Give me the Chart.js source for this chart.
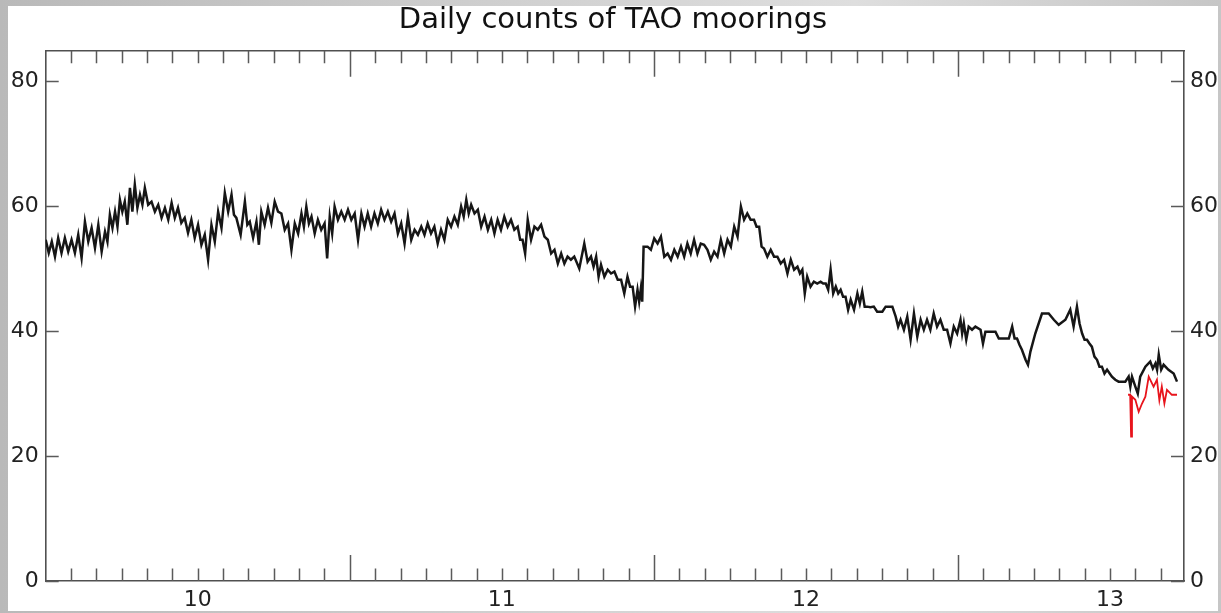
<!DOCTYPE html>
<html><head><meta charset="utf-8">
<script src="https://cdn.jsdelivr.net/npm/chart.js@4"></script>
<style>
html,body{margin:0;padding:0;}
body{width:1221px;height:613px;overflow:hidden;position:relative;background:linear-gradient(90deg,#b9b9b9 0%,#cfcfcf 40%,#dedede 70%,#c6c6c6 100%);}
#wrap{position:absolute;left:8px;top:6px;width:1210px;height:605px;background:#fff;}
</style></head><body>
<div id="wrap"><canvas id="c" width="1210" height="605"></canvas></div>
<script>
const chartTitle = 'Daily counts of TAO moorings';
const xTickValues = [10, 11, 12, 13];
const yTickValues = [0, 20, 40, 60, 80];
const xRange = [9.5, 13.243];
const yRange = [0, 84.85];

// Black series: time (years since 2000) with upper / lower envelope of the daily counts
const blackX = [9.500,9.520,9.541,9.563,9.585,9.607,9.629,9.651,9.673,9.695,9.711,9.728,9.744,9.760,9.777,9.793,9.810,9.826,9.848,9.870,9.892,9.914,9.935,9.957,9.979,10.001,10.023,10.045,10.067,10.089,10.111,10.127,10.155,10.171,10.193,10.209,10.231,10.253,10.275,10.297,10.319,10.341,10.357,10.374,10.395,10.417,10.434,10.450,10.472,10.494,10.516,10.538,10.559,10.581,10.603,10.625,10.647,10.669,10.691,10.713,10.735,10.756,10.778,10.800,10.822,10.844,10.866,10.883,10.899,10.921,10.943,10.965,10.986,11.008,11.030,11.052,11.068,11.085,11.107,11.129,11.151,11.173,11.195,11.216,11.238,11.271,11.293,11.310,11.326,11.348,11.370,11.392,11.413,11.430,11.446,11.457,11.466,11.479,11.501,11.523,11.545,11.567,11.589,11.610,11.632,11.654,11.676,11.698,11.720,11.742,11.764,11.786,11.807,11.829,11.846,11.862,11.884,11.906,11.928,11.950,11.972,11.988,12.004,12.026,12.048,12.065,12.081,12.098,12.114,12.130,12.147,12.169,12.185,12.201,12.223,12.234,12.251,12.262,12.284,12.295,12.311,12.333,12.355,12.377,12.398,12.420,12.442,12.464,12.486,12.508,12.519,12.535,12.557,12.574,12.590,12.623,12.634,12.667,12.678,12.694,12.710,12.722,12.738,12.754,12.776,12.798,12.815,12.831,12.853,12.869,12.891,12.908,12.924,12.940,12.957,12.973,12.990,13.006,13.028,13.050,13.061,13.072,13.083,13.099,13.116,13.132,13.149,13.160,13.176,13.192,13.209,13.220];
const blackHi = [54.6,54.3,54.9,54.9,54.6,55.4,57.5,56.5,57.0,55.9,58.6,59.1,61.0,60.7,62.9,63.4,61.8,62.9,60.7,60.2,59.7,60.5,59.7,58.1,57.8,57.0,55.4,57.0,59.1,62.1,61.8,58.1,60.7,57.5,57.5,59.1,59.7,60.7,58.8,57.2,57.2,58.8,59.9,58.3,57.8,57.2,58.3,59.9,59.1,59.4,58.8,58.8,58.8,58.8,59.4,59.1,58.8,57.2,58.3,56.2,56.7,57.2,56.7,56.2,57.8,58.3,59.9,61.0,60.2,59.4,58.3,57.8,57.8,58.3,57.8,56.7,54.6,57.8,56.7,57.0,54.6,53.0,52.4,51.9,51.9,54.0,51.9,51.9,50.6,49.8,49.5,48.2,48.7,47.1,46.6,46.8,53.5,53.5,54.8,55.1,52.4,53.0,53.5,54.0,54.6,54.0,53.0,52.7,54.6,54.6,56.7,59.9,58.8,57.8,56.7,53.2,53.0,51.9,51.4,51.4,50.3,49.8,48.7,47.9,47.9,47.6,49.8,47.1,46.6,45.5,45.0,46.0,46.3,43.9,43.9,43.1,43.1,43.9,43.9,42.3,41.8,42.3,42.8,41.8,41.8,42.8,41.8,40.2,40.7,41.8,41.2,40.7,40.7,40.2,39.9,39.9,38.8,38.8,40.7,38.8,37.0,35.4,36.7,39.6,42.8,42.8,41.8,41.0,41.8,43.4,43.9,39.6,38.6,37.5,35.4,34.3,33.8,32.7,31.9,31.9,32.7,32.7,31.1,32.7,34.3,35.1,34.8,36.2,34.6,33.8,33.2,31.9];
const blackLo = [52.5,51.9,52.5,52.7,52.5,51.7,54.3,53.3,52.7,54.3,56.5,56.7,59.1,57.0,59.1,59.7,60.2,60.2,59.1,58.1,57.8,58.1,57.3,55.7,54.9,53.8,51.4,54.3,56.5,59.1,58.6,55.4,57.0,54.9,53.8,57.0,57.3,59.1,56.2,53.0,55.6,56.7,57.2,55.6,56.2,51.6,55.6,57.8,57.8,57.8,54.6,56.7,56.7,57.2,57.8,57.5,55.6,54.0,54.6,55.4,55.4,55.6,54.0,54.6,56.7,57.0,58.3,58.8,58.8,56.7,56.2,55.6,56.2,56.7,56.2,54.6,52.4,54.6,56.2,55.1,52.4,50.8,50.8,51.4,50.0,51.1,50.3,48.7,48.7,49.2,48.2,46.0,47.1,43.9,44.7,44.7,53.5,53.0,54.0,51.9,51.4,51.9,51.9,52.4,52.4,53.8,51.4,51.9,52.4,53.5,55.1,57.8,57.8,56.7,53.5,51.9,51.9,50.8,49.2,49.8,49.2,46.0,47.1,47.6,47.6,46.6,46.0,46.0,45.5,43.4,43.4,44.4,43.9,43.8,43.9,43.1,43.1,43.9,43.9,40.7,40.2,38.6,39.1,40.2,40.2,40.7,40.2,38.0,39.6,39.6,38.6,40.2,40.7,38.0,39.9,39.9,38.8,38.8,38.8,37.8,37.0,34.6,36.7,39.6,42.8,42.8,41.8,41.0,41.8,40.7,41.2,38.6,38.0,35.9,34.3,33.2,33.8,32.2,31.9,31.9,31.1,32.7,30.0,32.7,34.3,34.0,33.8,33.8,34.6,33.8,33.2,31.9];

// Red series
const redX  = [13.059,13.066,13.072,13.083,13.094,13.105,13.116,13.127,13.143,13.154,13.170,13.187,13.203,13.220];
const redHi = [29.8,29.8,29.5,29.0,27.1,28.4,29.5,32.7,31.1,32.2,31.1,30.6,29.8,29.8];
const redLo = [29.8,23.1,29.5,29.0,27.1,28.4,29.5,32.7,31.1,28.9,28.4,30.6,29.8,29.8];

// Each reading gives its upper value, then its lower value half-way to the next reading
function buildPoints(xs, hi, lo) {
  const pts = [];
  xs.forEach((x, i) => {
    pts.push({x: x, y: hi[i]});
    if (lo[i] !== hi[i]) {
      const next = i + 1 < xs.length ? xs[i + 1] : x + 0.005;
      pts.push({x: x + (next - x) / 2, y: lo[i]});
    }
  });
  return pts;
}

const FONT = "'DejaVu Sans', 'Liberation Sans', Arial, sans-serif";
const AXIS_COLOR = '#505050';

const inwardTicks = {
  id: 'inwardTicks',
  afterDatasetsDraw(chart) {
    const {ctx, chartArea: a, scales} = chart;
    const x = scales.x, y = scales.y;
    ctx.save();
    ctx.strokeStyle = '#5a5a5a';
    ctx.lineWidth = 1.5;
    ctx.beginPath();
    for (let k = 1; xRange[0] + k / 12 < xRange[1]; k++) {
      const v = xRange[0] + k / 12;
      const px = Math.round(x.getPixelForValue(v)) + 0.5;
      const len = (k % 12 === 0) ? 26 : 12.5;
      ctx.moveTo(px, a.bottom); ctx.lineTo(px, a.bottom - len);
      ctx.moveTo(px, a.top); ctx.lineTo(px, a.top + len);
    }
    yTickValues.forEach(v => {
      const py = Math.round(y.getPixelForValue(v)) + 0.5;
      ctx.moveTo(a.left, py); ctx.lineTo(a.left + 13, py);
      ctx.moveTo(a.right, py); ctx.lineTo(a.right - 13, py);
    });
    ctx.stroke();
    ctx.restore();
  }
};

const tickFont = {family: FONT, size: 22};
const noGrid = {display: false, drawTicks: false};

new Chart(document.getElementById('c'), {
  type: 'line',
  data: {
    datasets: [
      {data: buildPoints(redX, redHi, redLo), borderColor: '#e8141c', borderWidth: 1.8, pointRadius: 0, tension: 0, fill: false},
      {data: buildPoints(blackX, blackHi, blackLo), borderColor: '#161616', borderWidth: 2.5, pointRadius: 0, tension: 0, fill: false}
    ]
  },
  options: {
    responsive: false,
    animation: false,
    layout: {padding: 0},
    plugins: {
      legend: {display: false},
      tooltip: {enabled: false},
      title: {display: true, text: chartTitle, color: '#111', font: {family: FONT, size: 29, weight: 'normal', lineHeight: 1}, padding: {top: 0, bottom: 9}}
    },
    scales: {
      x: {
        type: 'linear', position: 'bottom', min: xRange[0], max: xRange[1],
        grid: noGrid,
        border: {display: true, color: AXIS_COLOR, width: 1.6},
        ticks: {font: tickFont, color: '#222', padding: 6, maxRotation: 0, autoSkip: false, callback: v => String(v)},
        afterBuildTicks: s => { s.ticks = xTickValues.map(v => ({value: v})); },
        afterFit: s => { s.height = 30; }
      },
      x2: {
        type: 'linear', position: 'top', min: xRange[0], max: xRange[1],
        grid: noGrid,
        border: {display: true, color: AXIS_COLOR, width: 1.6},
        ticks: {display: false},
        afterFit: s => { s.height = 6.7; }
      },
      y: {
        type: 'linear', position: 'left', min: yRange[0], max: yRange[1],
        grid: noGrid,
        border: {display: true, color: AXIS_COLOR, width: 1.6},
        ticks: {font: tickFont, color: '#222', padding: 7, autoSkip: false, callback: v => String(v)},
        afterBuildTicks: s => { s.ticks = yTickValues.map(v => ({value: v})); },
        afterFit: s => { s.width = 37.7; }
      },
      y2: {
        type: 'linear', position: 'right', min: yRange[0], max: yRange[1],
        grid: noGrid,
        border: {display: true, color: AXIS_COLOR, width: 1.6},
        ticks: {font: tickFont, color: '#222', padding: 6, autoSkip: false, callback: v => String(v)},
        afterBuildTicks: s => { s.ticks = yTickValues.map(v => ({value: v})); },
        afterFit: s => { s.width = 34; }
      }
    }
  },
  plugins: [inwardTicks]
});
</script>
</body></html>
